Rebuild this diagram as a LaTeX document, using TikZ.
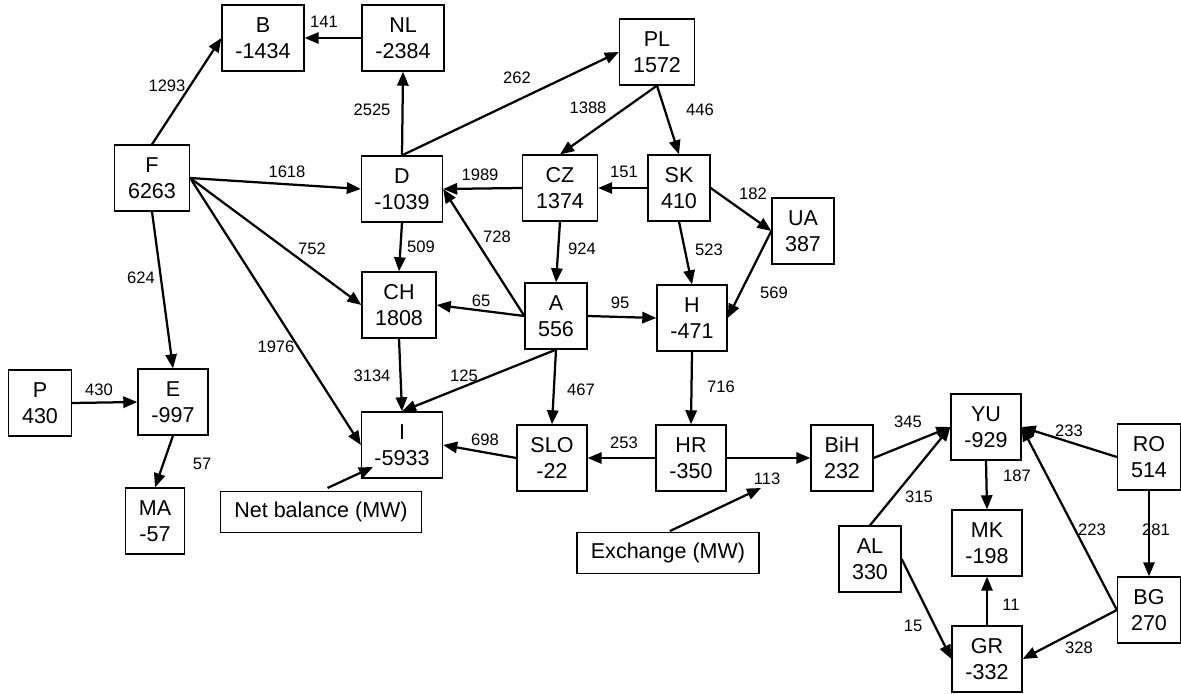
\documentclass[tikz,border=0pt]{standalone}
\usepackage{fontspec}
\setmainfont{Liberation Sans}
\usetikzlibrary{arrows.meta}

\begin{document}
\begin{tikzpicture}[x=0.025cm, y=-0.025cm, box/.style={draw, line width=0.9pt, align=center, minimum width=#1, minimum height=1.65cm, inner sep=1pt, font=\fontsize{15.3}{18.2}\selectfont}, box/.default=1.75cm, note/.style={draw, line width=0.9pt, minimum height=1.02cm, font=\fontsize{15.3}{18}\selectfont}, lbl/.style={inner sep=0pt, font=\fontsize{11.8}{14}\selectfont}, arrow/.style={-{Triangle[length=10pt, width=8pt]}, line width=1.6pt}]
\useasboundingbox (0,0) rectangle (1181,694);
\node[box=2.05cm](B) at (263,38){B\\-1434};
\node[box=2.05cm](NL) at (403,38){NL\\-2384};
\node[box=1.875cm](F) at (152,178){F\\6263};
\node[box=2.025cm](D) at (402,189){D\\-1039};
\node[box=1.85cm](CH) at (399,305){CH\\1808};
\node[box=1.875cm](PL) at (657,52){PL\\1572};
\node[box=1.875cm](CZ) at (560,188){CZ\\1374};
\node[box=1.55cm](SK) at (679,188){SK\\410};
\node[box=1.55cm](UA) at (803,231){UA\\387};
\node[box=1.55cm](A) at (556,316){A\\556};
\node[box](H) at (692,318){H\\-471};
\node[box=1.575cm](P) at (40,403){P\\430};
\node[box](E) at (173,402){E\\-997};
\node[box=1.475cm](MA) at (155,521){MA\\-57};
\node[box=2.025cm](I) at (402,445){I\\-5933};
\node[box](SLO) at (552,458){SLO\\-22};
\node[box](HR) at (691,458){HR\\-350};
\node[box=1.55cm](BiH) at (842,458){BiH\\232};
\node[box](YU) at (986,427){YU\\-929};
\node[box=1.575cm](RO) at (1149,457){RO\\514};
\node[box=1.55cm](AL) at (870,559){AL\\330};
\node[box](MK) at (987,543){MK\\-198};
\node[box=1.575cm](BG) at (1149,610){BG\\270};
\node[box](GR) at (987,659){GR\\-332};
\node[note, minimum width=5.03cm](nb) at (321,512){Net balance (MW)};
\node[note, minimum width=4.55cm](ex) at (668,553){Exchange (MW)};
\coordinate (nbtip) at (373,467);
\coordinate (extip) at (761,488);
% flows
\draw[arrow] (F.north)--(B.west);
\draw[arrow] (NL.west)--(B.east);
\draw[arrow] (D.north)--(NL.south);
\draw[arrow] (D.north)--(PL.west);
\draw[arrow] (F.east)--(D.west);
\draw[arrow] (F.east)--(CH.west);
\draw[arrow] (F.east)--(I.west);
\draw[arrow] (F.south)--(E.north);
\draw[arrow] (P.east)--(E.west);
\draw[arrow] (E.south)--(MA.north);
\draw[arrow] (D.south)--(CH.north);
\draw[arrow] (CZ.west)--(D.east);
\draw[arrow] (A.west)--(D.east);
\draw[arrow] (PL.south)--(CZ.north);
\draw[arrow] (PL.south)--(SK.north);
\draw[arrow] (SK.west)--(CZ.east);
\draw[arrow] (SK.east)--(UA.west);
\draw[arrow] (SK.south)--(H.north);
\draw[arrow] (UA.west)--(H.east);
\draw[arrow] (CZ.south)--(A.north);
\draw[arrow] (A.west)--(CH.east);
\draw[arrow] (A.east)--(H.west);
\draw[arrow] (CH.south)--(I.north);
\draw[arrow] (A.south)--(I.north);
\draw[arrow] (A.south)--(SLO.north);
\draw[arrow] (H.south)--(HR.north);
\draw[arrow] (SLO.west)--(I.east);
\draw[arrow] (HR.west)--(SLO.east);
\draw[arrow] (HR.east)--(BiH.west);
\draw[arrow] (BiH.east)--(YU.west);
\draw[arrow] (AL.north)--(YU.west);
\draw[arrow] (RO.west)--(YU.east);
\draw[arrow] (BG.west)--(YU.east);
\draw[arrow] (YU.south)--(MK.north);
\draw[arrow] (RO.south)--(BG.north);
\draw[arrow] (GR.north)--(MK.south);
\draw[arrow] (AL.east)--(GR.west);
\draw[arrow] (BG.west)--(GR.east);
% legend pointers
\draw[arrow, shorten <=0.18cm] (nb.north)--(nbtip);
\draw[arrow, shorten <=0.05cm] (ex.north)--(extip);
% flow values
\node[lbl](l1293) at (167,86){1293};
\node[lbl](l141) at (324,22){141};
\node[lbl](l2525) at (372,110){2525};
\node[lbl](l1618) at (287,172){1618};
\node[lbl](l752) at (312,249){752};
\node[lbl](l509) at (421,247){509};
\node[lbl](l624) at (141,278){624};
\node[lbl](l1976) at (276,347){1976};
\node[lbl](l262) at (517,78){262};
\node[lbl](l1388) at (588,108){1388};
\node[lbl](l446) at (700,110){446};
\node[lbl](l1989) at (480,175){1989};
\node[lbl](l151) at (624,172){151};
\node[lbl](l182) at (753,194){182};
\node[lbl](l728) at (497,237){728};
\node[lbl](l924) at (582,249){924};
\node[lbl](l523) at (709,250){523};
\node[lbl](l569) at (774,293){569};
\node[lbl](l65) at (481,301){65};
\node[lbl](l95) at (620,303){95};
\node[lbl](l3134) at (372,376){3134};
\node[lbl](l430) at (99,390){430};
\node[lbl](l57) at (202,464){57};
\node[lbl](l125) at (464,376){125};
\node[lbl](l467) at (581,390){467};
\node[lbl](l716) at (721,387){716};
\node[lbl](l698) at (485,440){698};
\node[lbl](l253) at (624,443){253};
\node[lbl](l113) at (767,479){113};
\node[lbl](l345) at (908,422){345};
\node[lbl](l233) at (1069,431){233};
\node[lbl](l187) at (1017,476){187};
\node[lbl](l315) at (919,497){315};
\node[lbl](l223) at (1092,530){223};
\node[lbl](l281) at (1156,530){281};
\node[lbl](l11) at (1011,605){11};
\node[lbl](l15) at (913,626){15};
\node[lbl](l328) at (1079,648){328};
\end{tikzpicture}
\end{document}
